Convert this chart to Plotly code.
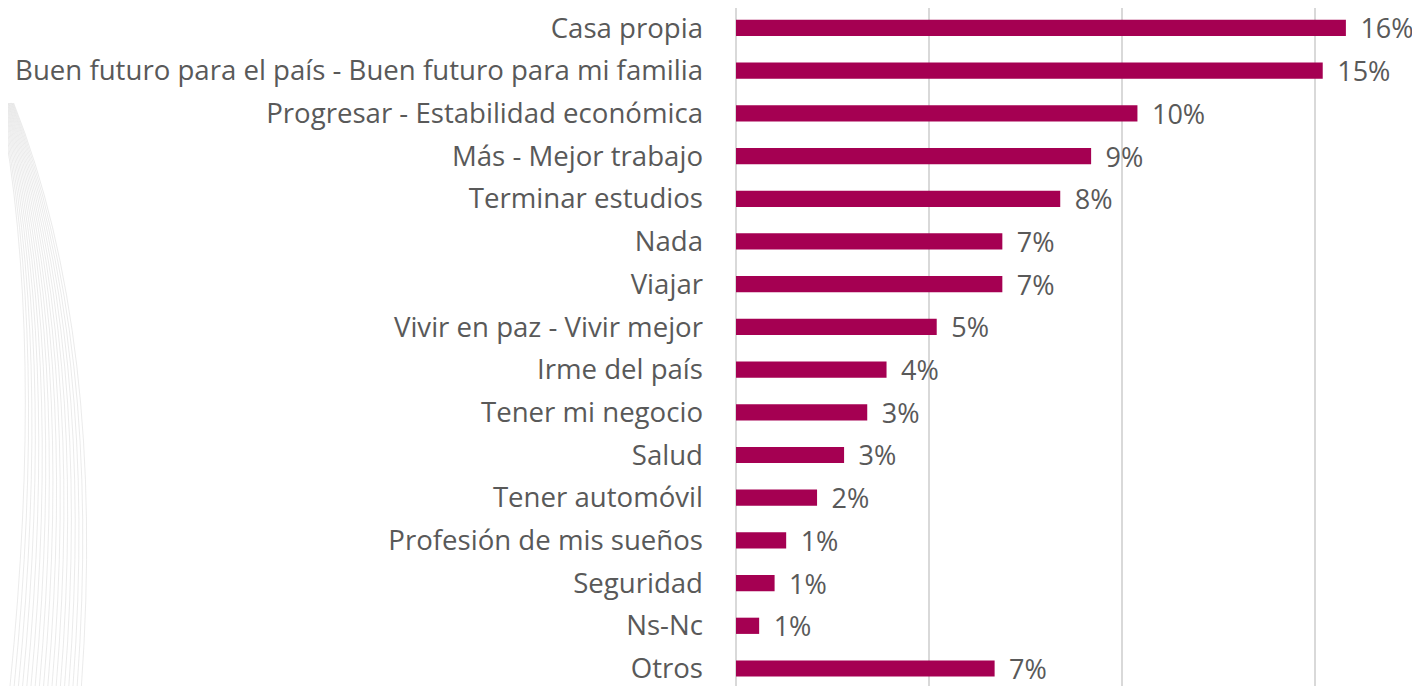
import plotly.graph_objects as go

categorias = ['Casa propia', 'Buen futuro para el país - Buen futuro para mi familia',
              'Progresar - Estabilidad económica', 'Más - Mejor trabajo', 'Terminar estudios',
              'Nada', 'Viajar', 'Vivir en paz - Vivir mejor', 'Irme del país', 'Tener mi negocio',
              'Salud', 'Tener automóvil', 'Profesión de mis sueños', 'Seguridad', 'Ns-Nc', 'Otros']
valores = [15.8, 15.2, 10.4, 9.2, 8.4, 6.9, 6.9, 5.2, 3.9, 3.4, 2.8, 2.1, 1.3, 1.0, 0.6, 6.7]
etiquetas = ['16%', '15%', '10%', '9%', '8%', '7%', '7%', '5%', '4%', '3%', '3%', '2%', '1%', '1%', '1%', '7%']

W, H = 1412, 678
izq = 728
gris = '#595959'

fig = go.Figure(go.Bar(
    y=categorias,
    x=valores,
    orientation='h',
    marker=dict(color='#A50052', line=dict(width=0)),
    width=0.38,
    text=['\u00a0\u2009' + e for e in etiquetas],
    textposition='outside',
    constraintext='none',
    textfont=dict(size=27, color=gris, family='Open Sans'),
    cliponaxis=False,
))

# fondo decorativo: lineas curvas tenues a la izquierda
shapes = []
ancho = W - izq
for k in range(18):
    x0 = -izq - 8 + k * 0.8
    x1 = -izq - 8 + 10 + k * 4.2
    shapes.append(dict(
        type='path', xref='x domain', yref='paper', layer='below',
        path='M {:.4f},{:.4f} Q {:.4f},{:.4f} {:.4f},{:.4f}'.format(
            x0 / ancho, 1 - 95 / H,
            (x0 + 45 + k * 2.8) / ancho, 1 - 330 / H,
            x1 / ancho, 0),
        line=dict(color='rgba(205,205,205,0.4)', width=1),
    ))

fig.update_layout(
    width=W, height=H,
    margin=dict(l=izq, r=0, t=0, b=0),
    paper_bgcolor='white', plot_bgcolor='white',
    showlegend=False,
    font=dict(family='Open Sans', color=gris, size=27),
    shapes=shapes,
)
fig.update_xaxes(range=[0, 17.72], dtick=5, showgrid=True, gridcolor='#d9d9d9', gridwidth=1.5,
                 showticklabels=False, zeroline=True, zerolinecolor='#d9d9d9', zerolinewidth=1.5)
fig.update_yaxes(categoryorder='array', categoryarray=categorias,
                 range=[15.41, -0.468], ticklabelstandoff=32, showgrid=False,
                 tickfont=dict(size=27.6, color=gris, family='Open Sans'))

fig.write_html('out.html')
